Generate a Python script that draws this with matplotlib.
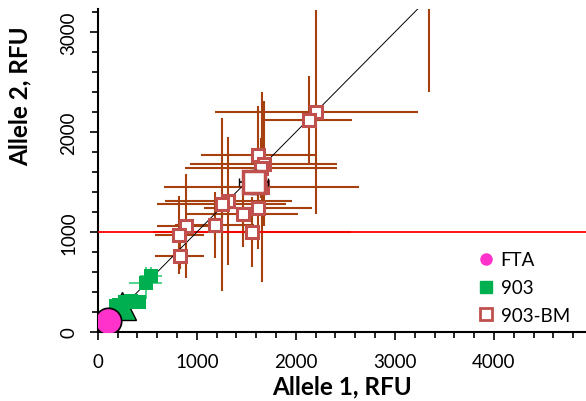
import matplotlib
matplotlib.use("Agg")
from matplotlib import pyplot as plt
from matplotlib.lines import Line2D
import numpy as np

plt.rcParams['font.family'] = ['Lato', 'DejaVu Sans']

# 903-BM replicates (open squares) with their spread
bm_x = [2204, 2130, 1620, 1674, 1650, 1657, 1316, 1252, 1617, 1462, 1178, 891, 1553, 823, 827, 3340]
bm_y = [2203, 2123, 1770, 1683, 1640, 1450, 1307, 1277, 1243, 1177, 1070, 1057, 997, 970, 763, 3600]
bm_xerr = [1025, 440, 580, 745, 770, 985, 640, 650, 550, 560, 400, 290, 1000, 250, 250, 300]
bm_yerr = [1020, 435, 495, 625, 300, 950, 640, 865, 410, 330, 330, 520, 350, 390, 130, 1200]

# 903-BM mean
bm_mean_x, bm_mean_y = 1573, 1503
bm_mean_xerr, bm_mean_yerr = 150, 120

# 903 replicates (green squares)
g_x = [540, 482, 415, 330, 270, 215, 180]
g_y = [565, 490, 297, 313, 300, 275, 265]
g_xerr = [110, 170, 60, 50, 60, 40, 40]
g_yerr = [90, 160, 60, 40, 50, 40, 40]

# 903 mean (triangle)
g_mean_x, g_mean_y = 246, 257

# FTA
fta_x, fta_y = 101, 107

threshold = 1000

brown = '#A6410F'
bm_edge = '#C0504D'
green = '#00B050'
pink = '#FF33CC'

fig = plt.figure(figsize=(5.86, 4.02), dpi=100)
ax = fig.add_axes([0.167, 0.1716, 0.833, 0.8035])

# error bars first
ax.errorbar(bm_x, bm_y, xerr=bm_xerr, yerr=bm_yerr, fmt='none',
            ecolor=brown, elinewidth=1.5, capsize=0, zorder=2)

# threshold and identity lines
ax.axhline(threshold, color='#FF0000', lw=1.3, zorder=3)
ax.plot([0, 5000], [0, 5000], color='black', lw=0.7, zorder=3)

# 903-BM points
ax.plot(bm_x, bm_y, 's', ms=9, mfc='white', mec=bm_edge, mew=2.2, zorder=4)

# 903-BM mean
ax.errorbar([bm_mean_x], [bm_mean_y], xerr=[bm_mean_xerr], yerr=[bm_mean_yerr],
            fmt='none', ecolor='black', elinewidth=1.2, capsize=3, zorder=4)
ax.plot([bm_mean_x], [bm_mean_y], 's', ms=16, mfc='white', mec=bm_edge,
        mew=2.5, zorder=5)

# 903
ax.plot([g_mean_x], [g_mean_y], '^', ms=20, mfc=green, mec='black',
        mew=1.0, zorder=5)
ax.errorbar(g_x, g_y, xerr=g_xerr, yerr=g_yerr, fmt='none',
            ecolor='#33CC77', elinewidth=1.2, capsize=0, zorder=5)
ax.plot(g_x, g_y, 's', ms=9.5, mfc=green, mec=green, mew=0, zorder=6)

# FTA
ax.plot([fta_x], [fta_y], 'o', ms=19, mfc=pink, mec='black', mew=1.2,
        zorder=7)

ax.set_xlim(0, 4930)
ax.set_ylim(0, 3230)

ax.set_xticks([0, 1000, 2000, 3000, 4000])
ax.set_yticks([0, 1000, 2000, 3000])
ax.set_xticks(np.arange(0, 5000, 200), minor=True)
ax.set_yticks(np.arange(0, 3300, 200), minor=True)
ax.tick_params(which='major', length=6, width=1.2, labelsize=13.5,
               direction='out')
ax.tick_params(axis='x', which='major', pad=9)
ax.tick_params(axis='y', which='major', pad=9)
ax.tick_params(which='minor', length=4, width=1.2, direction='out')
plt.setp(ax.get_yticklabels(), rotation=90, va='center')

for side in ['top', 'right']:
    ax.spines[side].set_visible(False)
for side in ['left', 'bottom']:
    ax.spines[side].set_linewidth(1.5)

ax.set_xlabel('Allele 1, RFU', fontsize=17.5, fontweight='bold')
ax.set_ylabel('Allele 2, RFU', fontsize=17.5, fontweight='bold')
ax.xaxis.set_label_coords(0.5, -0.13)
ax.yaxis.set_label_coords(-0.135, 0.734)

handles = [
    Line2D([], [], marker='o', ls='none', ms=8, mfc=pink, mec=pink),
    Line2D([], [], marker='s', ls='none', ms=8, mfc=green, mec=green),
    Line2D([], [], marker='s', ls='none', ms=8, mfc='white', mec=bm_edge, mew=2),
]
ax.legend(handles, ['FTA', '903', '903-BM'], loc='upper left',
          bbox_to_anchor=(0.775, 0.25), frameon=False, fontsize=13.5,
          handlelength=1.0, handletextpad=0.3, labelspacing=0.58,
          borderpad=0, borderaxespad=0)

fig.savefig('out.png', dpi=100)
